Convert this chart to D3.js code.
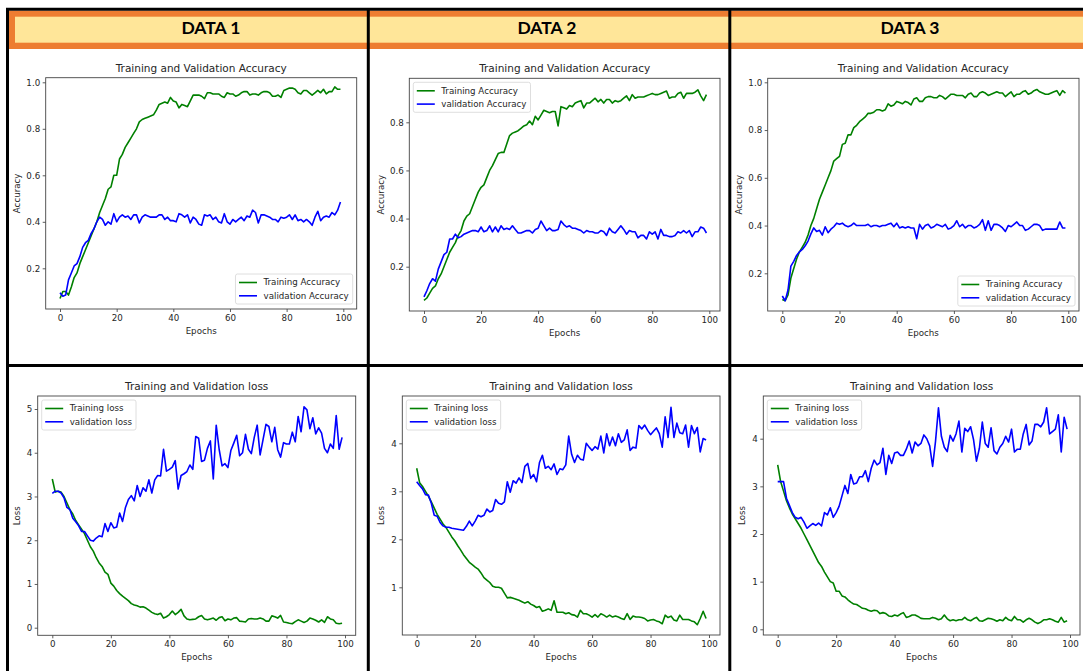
<!DOCTYPE html>
<html>
<head>
<meta charset="utf-8">
<script src="https://cdnjs.cloudflare.com/ajax/libs/d3/7.8.5/d3.min.js"></script>
<style>
  body { margin: 0; background: #fff; }
  svg text { font-family: "DejaVu Sans", sans-serif; fill: #262626; }
</style>
</head>
<body>
<script>
// ---- data (100 epochs per series) ----
var headers = ["DATA 1", "DATA 2", "DATA 3"];
var epochTicks = [0, 20, 40, 60, 80, 100];
var accTicks = [0.2, 0.4, 0.6, 0.8, 1.0];
var lossTicks = [0, 1, 2, 3, 4, 5];
var accLabels = ["Training Accuracy", "validation Accuracy"];
var lossLabels = ["Training loss", "validation loss"];

var acc1Train = [
  0.07,0.10,0.10,0.085,0.12,0.16,0.18,0.22,0.25,0.28,
  0.31,0.34,0.37,0.40,0.44,0.47,0.50,0.54,0.55,0.60,
  0.60,0.67,0.69,0.72,0.74,0.76,0.78,0.80,0.83,0.84,
  0.845,0.85,0.855,0.86,0.88,0.905,0.91,0.915,0.91,0.935,
  0.92,0.915,0.89,0.905,0.90,0.895,0.92,0.945,0.945,0.945,
  0.94,0.93,0.955,0.955,0.95,0.95,0.95,0.94,0.935,0.955,
  0.95,0.95,0.94,0.945,0.955,0.96,0.96,0.945,0.95,0.95,
  0.945,0.955,0.96,0.96,0.955,0.94,0.94,0.945,0.935,0.965,
  0.97,0.975,0.975,0.97,0.955,0.95,0.965,0.965,0.955,0.945,
  0.955,0.965,0.955,0.97,0.95,0.96,0.96,0.98,0.97,0.97];
var acc1Val = [
  0.095,0.08,0.085,0.15,0.18,0.21,0.22,0.25,0.29,0.31,
  0.32,0.35,0.37,0.40,0.42,0.41,0.385,0.40,0.39,0.435,
  0.40,0.42,0.43,0.42,0.425,0.41,0.43,0.43,0.395,0.42,
  0.43,0.425,0.42,0.42,0.42,0.43,0.43,0.41,0.42,0.405,
  0.405,0.40,0.435,0.43,0.42,0.43,0.395,0.42,0.41,0.39,
  0.385,0.43,0.425,0.43,0.41,0.42,0.40,0.395,0.435,0.40,
  0.39,0.41,0.40,0.41,0.42,0.405,0.425,0.42,0.45,0.44,
  0.395,0.43,0.43,0.425,0.42,0.41,0.41,0.40,0.42,0.415,
  0.42,0.43,0.41,0.43,0.405,0.41,0.40,0.41,0.40,0.385,
  0.42,0.445,0.405,0.42,0.425,0.42,0.44,0.43,0.45,0.485];

var acc2Train = [
  0.06,0.07,0.09,0.11,0.12,0.15,0.17,0.20,0.23,0.26,
  0.28,0.30,0.33,0.35,0.39,0.41,0.42,0.45,0.48,0.51,
  0.53,0.54,0.57,0.60,0.62,0.645,0.67,0.675,0.675,0.71,
  0.745,0.755,0.76,0.765,0.775,0.785,0.79,0.805,0.79,0.825,
  0.81,0.83,0.85,0.845,0.84,0.845,0.845,0.785,0.865,0.86,
  0.855,0.87,0.865,0.88,0.885,0.89,0.86,0.88,0.88,0.89,
  0.90,0.885,0.895,0.88,0.895,0.895,0.88,0.89,0.885,0.89,
  0.90,0.91,0.89,0.915,0.90,0.905,0.905,0.905,0.91,0.915,
  0.92,0.915,0.915,0.92,0.925,0.93,0.90,0.905,0.905,0.92,
  0.925,0.90,0.92,0.92,0.92,0.925,0.935,0.91,0.89,0.915];
var acc2Val = [
  0.075,0.10,0.13,0.15,0.14,0.19,0.22,0.25,0.26,0.315,
  0.315,0.335,0.32,0.325,0.335,0.34,0.345,0.35,0.35,0.345,
  0.365,0.345,0.35,0.37,0.345,0.365,0.345,0.37,0.355,0.36,
  0.355,0.37,0.355,0.34,0.34,0.345,0.35,0.35,0.34,0.355,
  0.36,0.39,0.37,0.35,0.36,0.35,0.35,0.355,0.39,0.375,
  0.365,0.37,0.36,0.36,0.355,0.35,0.34,0.35,0.345,0.345,
  0.34,0.34,0.35,0.345,0.33,0.36,0.345,0.34,0.355,0.37,
  0.355,0.335,0.35,0.345,0.345,0.32,0.33,0.33,0.315,0.345,
  0.335,0.345,0.315,0.355,0.33,0.33,0.325,0.325,0.33,0.345,
  0.34,0.35,0.34,0.35,0.325,0.345,0.345,0.365,0.36,0.34];

var acc3Train = [
  0.09,0.085,0.11,0.18,0.22,0.26,0.29,0.31,0.33,0.36,
  0.40,0.43,0.47,0.51,0.54,0.57,0.60,0.63,0.67,0.68,
  0.69,0.74,0.745,0.78,0.78,0.81,0.82,0.835,0.845,0.855,
  0.87,0.87,0.875,0.885,0.885,0.88,0.885,0.91,0.90,0.905,
  0.92,0.915,0.91,0.92,0.915,0.905,0.93,0.935,0.92,0.92,
  0.935,0.94,0.94,0.935,0.935,0.945,0.94,0.93,0.94,0.95,
  0.95,0.945,0.945,0.945,0.935,0.95,0.955,0.94,0.94,0.955,
  0.96,0.955,0.945,0.95,0.955,0.96,0.955,0.955,0.94,0.95,
  0.96,0.94,0.95,0.95,0.96,0.965,0.95,0.955,0.965,0.97,
  0.96,0.955,0.95,0.95,0.955,0.96,0.965,0.945,0.965,0.955];
var acc3Val = [
  0.105,0.085,0.13,0.23,0.25,0.275,0.29,0.30,0.315,0.335,
  0.365,0.39,0.375,0.38,0.36,0.395,0.37,0.385,0.395,0.41,
  0.405,0.41,0.40,0.395,0.40,0.41,0.40,0.40,0.40,0.40,
  0.405,0.395,0.40,0.40,0.395,0.40,0.40,0.405,0.41,0.395,
  0.41,0.39,0.395,0.39,0.395,0.39,0.39,0.345,0.405,0.385,
  0.40,0.405,0.39,0.395,0.405,0.40,0.395,0.405,0.385,0.39,
  0.40,0.42,0.395,0.405,0.39,0.40,0.40,0.39,0.395,0.405,
  0.425,0.38,0.42,0.38,0.405,0.405,0.40,0.39,0.375,0.40,
  0.395,0.405,0.415,0.40,0.40,0.38,0.385,0.395,0.405,0.405,
  0.40,0.38,0.385,0.385,0.385,0.385,0.385,0.415,0.39,0.39];

var loss1Train = [
  3.4,3.1,3.12,3.1,3.0,2.85,2.7,2.6,2.45,2.35,
  2.25,2.15,2.0,1.85,1.75,1.6,1.48,1.4,1.27,1.22,
  1.02,0.95,0.85,0.78,0.72,0.67,0.62,0.55,0.52,0.5,
  0.47,0.48,0.45,0.4,0.35,0.32,0.3,0.33,0.22,0.25,
  0.3,0.38,0.3,0.35,0.42,0.27,0.2,0.18,0.19,0.2,
  0.25,0.28,0.2,0.18,0.2,0.22,0.17,0.23,0.25,0.16,
  0.2,0.18,0.22,0.23,0.15,0.14,0.13,0.2,0.21,0.2,
  0.2,0.22,0.2,0.15,0.15,0.27,0.25,0.22,0.28,0.13,
  0.12,0.1,0.09,0.14,0.18,0.15,0.12,0.15,0.22,0.2,
  0.17,0.13,0.18,0.12,0.25,0.2,0.18,0.1,0.09,0.1];
var loss1Val = [
  3.07,3.12,3.12,3.08,2.97,2.75,2.7,2.5,2.42,2.33,
  2.2,2.2,2.1,2.0,1.98,2.05,2.1,2.08,2.38,2.2,
  2.4,2.28,2.3,2.62,2.43,2.75,2.93,3.02,2.9,3.25,
  3.0,3.2,3.12,3.38,3.08,3.38,3.48,3.47,4.08,3.58,
  3.62,3.67,3.82,3.17,3.48,3.52,3.57,3.72,3.62,4.37,
  4.33,3.8,3.83,4.1,4.27,3.4,4.63,4.08,3.7,3.75,
  3.66,4.05,4.22,4.4,3.93,4.0,4.42,4.08,3.98,4.35,
  4.63,3.95,4.3,4.65,4.6,4.25,4.58,4.07,3.9,4.23,
  4.2,4.2,4.47,4.25,4.83,4.48,5.05,4.98,4.55,4.8,
  4.43,4.57,4.45,4.1,4.0,4.2,4.1,4.85,4.08,4.35];

var loss2Train = [
  3.48,3.18,3.1,3.0,2.9,2.78,2.65,2.52,2.42,2.32,
  2.25,2.15,2.05,1.97,1.87,1.78,1.68,1.6,1.52,1.47,
  1.42,1.38,1.3,1.2,1.15,1.1,1.02,1.0,1.0,0.98,
  0.88,0.78,0.79,0.77,0.75,0.73,0.7,0.67,0.7,0.65,
  0.62,0.58,0.6,0.5,0.52,0.55,0.52,0.72,0.48,0.48,
  0.48,0.45,0.47,0.43,0.42,0.38,0.52,0.45,0.45,0.42,
  0.38,0.43,0.38,0.45,0.42,0.38,0.42,0.38,0.4,0.38,
  0.35,0.33,0.45,0.33,0.4,0.38,0.38,0.37,0.35,0.3,
  0.32,0.33,0.3,0.28,0.24,0.42,0.37,0.4,0.32,0.3,
  0.42,0.33,0.33,0.33,0.3,0.28,0.22,0.35,0.5,0.35];
var loss2Val = [
  3.2,3.12,3.05,2.93,2.92,2.75,2.5,2.48,2.35,2.28,
  2.25,2.25,2.23,2.22,2.21,2.2,2.19,2.27,2.38,2.28,
  2.38,2.5,2.47,2.5,2.63,2.57,2.6,2.83,2.75,2.73,
  2.78,3.2,2.98,3.22,3.17,3.28,3.18,3.52,3.58,3.27,
  3.35,3.2,3.6,3.75,3.48,3.52,3.45,3.57,3.35,3.47,
  3.45,3.55,4.15,3.77,3.6,3.75,3.67,3.65,4.0,3.92,
  3.85,3.93,3.88,4.15,3.8,4.2,3.95,4.13,3.95,4.2,
  4.02,4.07,4.28,3.85,3.92,3.9,4.37,4.3,4.38,4.27,
  4.18,4.25,4.32,4.2,3.92,4.55,4.12,4.75,4.12,4.42,
  4.22,4.2,4.38,3.92,4.37,4.2,4.33,3.82,4.1,4.07];

var loss3Train = [
  3.45,3.1,2.9,2.7,2.55,2.42,2.32,2.22,2.12,2.0,
  1.88,1.76,1.64,1.52,1.4,1.32,1.2,1.1,1.0,0.97,
  0.8,0.8,0.7,0.68,0.62,0.57,0.53,0.52,0.48,0.44,
  0.43,0.4,0.38,0.4,0.39,0.33,0.35,0.33,0.28,0.27,
  0.3,0.28,0.32,0.35,0.25,0.27,0.3,0.3,0.27,0.23,
  0.22,0.22,0.22,0.25,0.23,0.2,0.22,0.3,0.22,0.18,
  0.2,0.18,0.2,0.2,0.25,0.2,0.18,0.22,0.25,0.18,
  0.17,0.2,0.23,0.22,0.2,0.17,0.2,0.18,0.25,0.2,
  0.18,0.27,0.2,0.2,0.15,0.2,0.23,0.2,0.15,0.12,
  0.15,0.2,0.2,0.22,0.2,0.17,0.15,0.25,0.15,0.18];
var loss3Val = [
  3.1,3.1,3.1,2.75,2.6,2.45,2.35,2.32,2.35,2.25,
  2.12,2.17,2.22,2.18,2.23,2.17,2.45,2.4,2.55,2.35,
  2.45,2.58,2.8,3.02,2.85,3.25,3.05,3.07,3.2,3.2,
  3.33,3.1,3.38,3.55,3.45,3.5,3.8,3.25,3.65,3.48,
  3.7,3.72,3.65,3.65,3.78,3.95,3.7,3.93,3.85,3.9,
  4.08,4.0,3.85,3.42,3.95,4.65,4.05,3.82,3.73,4.07,
  3.95,4.1,4.37,3.72,4.22,4.15,4.25,3.98,3.53,3.8,
  4.35,3.9,3.82,4.23,3.75,3.68,3.82,3.9,4.05,3.93,
  4.2,3.72,3.78,3.78,4.1,4.3,3.87,3.95,4.3,4.3,
  4.25,4.35,4.65,4.1,4.15,4.2,4.5,3.72,4.45,4.2];

// ---- layout of the six matplotlib-style panels ----
var panels = [
  {kind: "acc",  train: acc1Train,  val: acc1Val,  box: [45.7, 77.7, 356.7, 309], xs: [60, 343.3],    ys: [[1.0, 82.3], [0.2, 268.3]], legend: "lr"},
  {kind: "acc",  train: acc2Train,  val: acc2Val,  box: [409.3, 78.3, 720, 311], xs: [424, 709.3],   ys: [[0.8, 122.3], [0.2, 266.7]], legend: "ul"},
  {kind: "acc",  train: acc3Train,  val: acc3Val,  box: [767.7, 78.3, 1079, 311], xs: [782.3, 1068.3], ys: [[1.0, 82.3], [0.2, 273.3]], legend: "lr"},
  {kind: "loss", train: loss1Train, val: loss1Val, box: [37.7, 396, 355.7, 635.3], xs: [52.3, 345],    ys: [[5, 409], [0, 627.7]],      legend: "ul"},
  {kind: "loss", train: loss2Train, val: loss2Val, box: [402.3, 396, 720, 635],   xs: [416.7, 709],   ys: [[4, 443.3], [1, 587.3]],    legend: "ul"},
  {kind: "loss", train: loss3Train, val: loss3Val, box: [763.3, 396, 1080, 635],  xs: [777.7, 1070],  ys: [[4, 438.7], [0, 629.3]],    legend: "ul"}
];

var W = 1083, H = 671;
var svg = d3.select("body").append("svg")
    .attr("width", W)
    .attr("height", H);

svg.append("rect").attr("width", W).attr("height", H).attr("fill", "#fff");

// header band: orange with a yellow strip
svg.append("rect").attr("x", 9).attr("y", 10.7).attr("width", W - 9).attr("height", 38.3).attr("fill", "#ED7D31");
svg.append("rect").attr("x", 15).attr("y", 16.7).attr("width", W - 15).attr("height", 26).attr("fill", "#FFE699");

var headerX = [211, 547, 910];
svg.selectAll(".hdr")
    .data(headers)
  .enter().append("text")
    .attr("class", "hdr")
    .attr("x", function(d, i) { return headerX[i]; })
    .attr("y", 33.5)
    .attr("text-anchor", "middle")
    .style("font-family", "Lato, 'Open Sans', sans-serif")
    .style("font-weight", "bold")
    .style("font-size", "17.5px")
    .style("fill", "#000")
    .text(function(d) { return d; });

var green = "#008000", blue = "#0000ff";

panels.forEach(function(p) {
  var left = p.box[0], top = p.box[1], right = p.box[2], bottom = p.box[3];
  var x = d3.scaleLinear().domain([0, 100]).range(p.xs);
  var y = d3.scaleLinear().domain([p.ys[0][0], p.ys[1][0]]).range([p.ys[0][1], p.ys[1][1]]);
  var g = svg.append("g");

  // x axis
  var xa = g.append("g")
      .attr("transform", "translate(0," + bottom + ")")
      .call(d3.axisBottom(x).tickValues(epochTicks).tickSize(3).tickPadding(2.5));
  // y axis
  var yt = (p.kind === "acc" ? accTicks : lossTicks).filter(function(v) {
    var py = y(v); return py >= top && py <= bottom;
  });
  var ya = g.append("g")
      .attr("transform", "translate(" + left + ",0)")
      .call(d3.axisLeft(y).tickValues(yt).tickSize(3).tickPadding(2.5)
        .tickFormat(p.kind === "acc" ? d3.format(".1f") : d3.format("d")));
  [xa, ya].forEach(function(a) {
    a.select(".domain").remove();
    a.selectAll("line").attr("stroke", "#333").attr("stroke-width", 0.8);
    a.selectAll("text").style("font-size", "8.7px").style("fill", "#262626");
  });

  // frame
  g.append("rect")
      .attr("x", left).attr("y", top)
      .attr("width", right - left).attr("height", bottom - top)
      .attr("fill", "none").attr("stroke", "#444").attr("stroke-width", 0.9);

  // lines
  var line = d3.line()
      .x(function(d, i) { return x(i); })
      .y(function(d) { return y(d); });
  g.append("path").datum(p.train).attr("d", line)
      .attr("fill", "none").attr("stroke", green).attr("stroke-width", 1.6)
      .attr("stroke-linejoin", "round");
  g.append("path").datum(p.val).attr("d", line)
      .attr("fill", "none").attr("stroke", blue).attr("stroke-width", 1.6)
      .attr("stroke-linejoin", "round");

  // title and axis labels
  g.append("text")
      .attr("x", (left + right) / 2).attr("y", top - 6)
      .attr("text-anchor", "middle")
      .style("font-size", "10.5px")
      .text(p.kind === "acc" ? "Training and Validation Accuracy" : "Training and Validation loss");
  g.append("text")
      .attr("x", (left + right) / 2).attr("y", bottom + 25)
      .attr("text-anchor", "middle")
      .style("font-size", "8.7px")
      .text("Epochs");
  g.append("text")
      .attr("transform", "translate(" + (left - (p.kind === "acc" ? 25.4 : 18)) + "," + ((top + bottom) / 2) + ") rotate(-90)")
      .attr("text-anchor", "middle")
      .style("font-size", "8.7px")
      .text(p.kind === "acc" ? "Accuracy" : "Loss");

  // legend
  var labels = p.kind === "acc" ? accLabels : lossLabels;
  var lg = g.append("g");
  var box = lg.append("rect");
  var items = lg.selectAll(".item")
      .data(labels)
    .enter().append("g")
      .attr("transform", function(d, i) { return "translate(0," + (8.5 + i * 13.3) + ")"; });
  items.append("line")
      .attr("x1", 3.5).attr("x2", 21.5)
      .attr("stroke", function(d, i) { return i === 0 ? green : blue; })
      .attr("stroke-width", 1.6);
  items.append("text")
      .attr("x", 28).attr("dy", "0.33em")
      .style("font-size", "8.7px")
      .text(function(d) { return d; });
  var tw = 0;
  items.selectAll("text").each(function() { tw = Math.max(tw, this.getComputedTextLength()); });
  var lw = 28 + tw + 4, lh = 30;
  box.attr("width", lw).attr("height", lh).attr("rx", 2)
      .attr("fill", "#fff").attr("fill-opacity", 0.8)
      .attr("stroke", "#d6d6d6").attr("stroke-width", 0.8);
  var lx = p.legend === "lr" ? right - 4 - lw : left + 4;
  var ly = p.legend === "lr" ? bottom - 5 - lh : top + 4;
  lg.attr("transform", "translate(" + lx + "," + ly + ")");
});

// black frame lines of the collage
var black = svg.append("g").attr("stroke", "#000").attr("stroke-width", 3);
black.append("line").attr("x1", 6).attr("x2", W).attr("y1", 9.3).attr("y2", 9.3);
black.append("line").attr("x1", 7.5).attr("x2", 7.5).attr("y1", 8).attr("y2", H);
black.append("line").attr("x1", 368.3).attr("x2", 368.3).attr("y1", 8).attr("y2", H);
black.append("line").attr("x1", 729.8).attr("x2", 729.8).attr("y1", 8).attr("y2", H);
black.append("line").attr("x1", 6).attr("x2", W).attr("y1", 365.5).attr("y2", 365.5);
</script>
</body>
</html>
